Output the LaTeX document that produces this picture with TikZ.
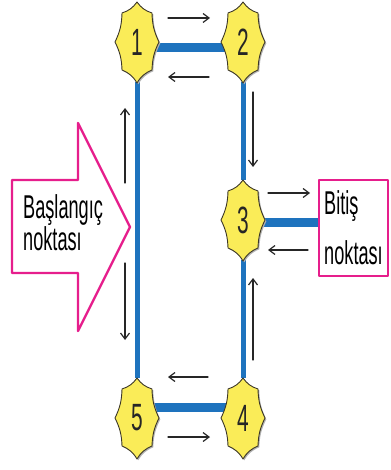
\documentclass[tikz,border=0pt]{standalone}
\usepackage{fontspec}
\setmainfont{Liberation Sans}
\newfontfamily\narrowfont[FakeStretch=0.55]{Liberation Sans}
\usetikzlibrary{arrows.meta,calc,backgrounds}
\definecolor{roadblue}{RGB}{30,115,190}
\definecolor{markpink}{RGB}{230,30,140}
\definecolor{starfill}{RGB}{250,236,88}
\definecolor{starline}{RGB}{60,55,40}

\newcommand{\starpath}{(0,-40) to[bend right=18] (15,-29) to[bend right=12] (22,0) to[bend right=12] (15,28) to[bend right=18] (0,41) to[bend right=18] (-15,28) to[bend right=12] (-22,0) to[bend right=12] (-15,-29) to[bend right=18] (0,-40) -- cycle}
\newcommand{\badgenode}[3]{%
	\fill[gray!60,shift={#2},xshift=1.3pt,yshift=-1.3pt] \starpath;
	\filldraw[badgestar,shift={#2}] \starpath;
	\node[badge] (#1) at #2 {#3};
}

\begin{document}
\begin{tikzpicture}
			[line cap=round,line join=round,>={Straight Barb[length=6pt,width=9pt]},x=1pt,y=-1pt,
			road/.style={roadblue,line width=5pt,line cap=butt},
			mainroad/.style={roadblue,line width=9pt,line cap=butt},
			badgestar/.style={fill=starfill,draw=starline,line width=0.9pt},
			badge/.style={inner sep=0pt,minimum width=44pt,minimum height=80pt,text=black!85,font=\narrowfont\fontsize{38}{38}\selectfont},
			startlabel/.style={inner sep=0pt,align=left,font=\narrowfont\fontsize{33}{29}\selectfont},
			endbox/.style={draw=markpink,line width=2.4pt,fill=white,minimum width=69pt,minimum height=96pt,inner sep=0pt,align=left,font=\narrowfont\fontsize{33}{50}\selectfont},
			dirarrow/.style={->,line width=1.2pt,black!85}]
			\useasboundingbox (0,0) rectangle (390,470);
			% start arrow
			\draw[markpink,line width=2.4pt,fill=white] (12,180) -- (78,180) -- (78,123) -- (130,227) -- (78,331) -- (78,273) -- (12,273) -- cycle;
			\node[startlabel,anchor=north west] (start) at (23,194) {Başlangıç\\noktası};
			% stops
			\badgenode{n1}{(137,42)}{1}
			\badgenode{n2}{(243,42)}{2}
			\badgenode{n3}{(243,220)}{3}
			\badgenode{n4}{(243,418)}{4}
			\badgenode{n5}{(137,418)}{5}
			\node[endbox] (bitis) at (353.5,228) {Bitiş\\noktası};
			% roads
			\begin{scope}[on background layer]
				\draw[road] (n1) -- (n5);
				\draw[road] (n2) -- (n3) -- (n4);
				\draw[mainroad] ($(n1)+(0,6)$) -- ($(n2)+(0,6)$);
				\draw[mainroad] ($(n5)+(0,-11)$) -- ($(n4)+(0,-11)$);
				\draw[mainroad] ($(n3)+(0,2)$) -- ($(bitis.west)+(0,-6)$);
			\end{scope}
			% directions
			\foreach \p/\q in {{168,18}/{210,18},{209,77}/{168,77},{125,183}/{125,108},{125,263}/{125,340},{253,92}/{253,167},{253,360}/{253,278},{268,193}/{310,193},{308,250}/{268,250},{208,377}/{168,377},{168,437}/{210,437}}
				\draw[dirarrow] (\p) -- (\q);
		\end{tikzpicture}
\end{document}
